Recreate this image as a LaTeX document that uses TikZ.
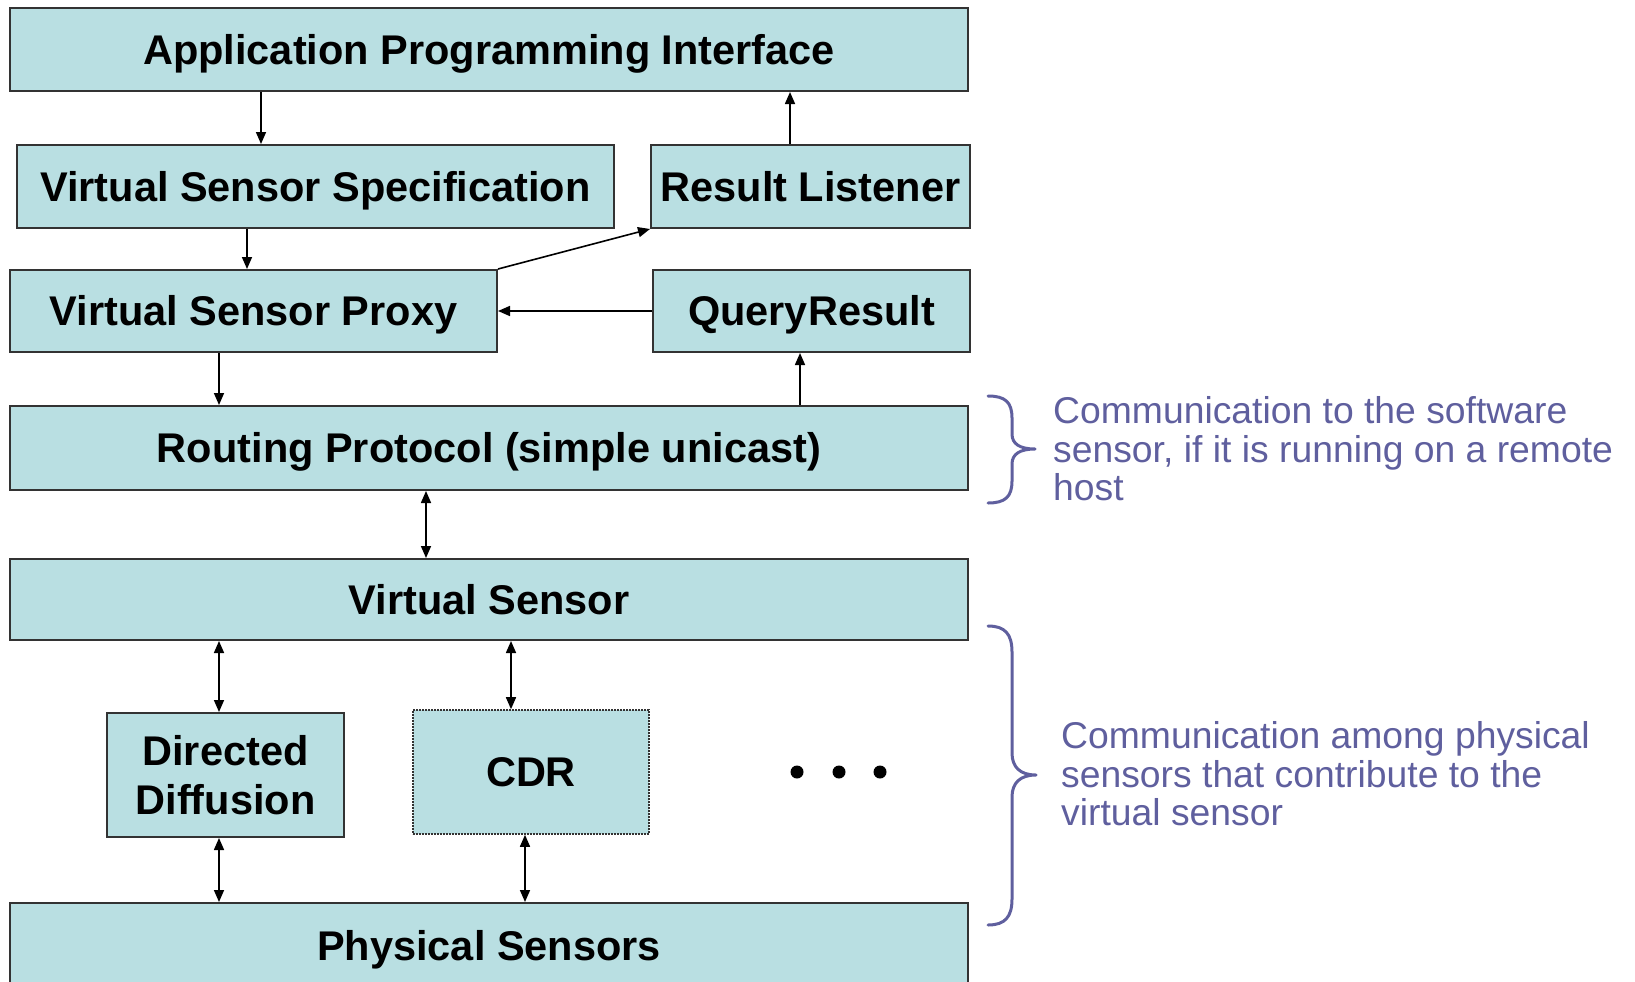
\documentclass[tikz,border=0pt]{standalone}
\usepackage{fontspec}
\setmainfont{Liberation Sans}
\usetikzlibrary{arrows.meta}
\definecolor{boxfill}{HTML}{B9DFE2}
\definecolor{boxline}{HTML}{333333}
\definecolor{notecol}{HTML}{5F5F9E}
\begin{document}
\begin{tikzpicture}[x=1pt,y=-1pt,
  layer/.style={draw=boxline, line width=2pt, fill=boxfill, inner sep=0pt,
    font=\fontsize{41.5}{49}\selectfont\bfseries, align=center},
  oneline/.style={layer, text height=29.7pt, text depth=0pt},
  dottedlayer/.style={layer, densely dotted, line width=1.6pt},
  arr/.style={-{Triangle[length=12pt,width=10pt]}, line width=1.6pt, draw=black},
  both/.style={{Triangle[length=12pt,width=10pt]}-{Triangle[length=12pt,width=10pt]}, line width=1.6pt, draw=black},
  notetext/.style={text=notecol, font=\fontsize{37.3}{38.6}\selectfont, align=left, inner sep=0pt, anchor=west},
  brace/.style={draw=notecol, line width=3pt, line cap=round, line join=round},
  dot/.style={circle, fill=black, minimum size=13pt, inner sep=0pt}
]
\useasboundingbox (0,0) rectangle (1635,982);
\clip (0,0) rectangle (1635,982);

% layers of the stack
\node[oneline, minimum width=958pt, minimum height=83pt] (api) at (489,49.5) {Application Programming Interface};
\node[oneline, minimum width=597pt, minimum height=83pt] (vss) at (315.5,186.5) {Virtual Sensor Specification};
\node[oneline, minimum width=319pt, minimum height=83pt] (rl) at (810.5,186.5) {Result Listener};
\node[oneline, minimum width=487pt, minimum height=82pt] (vsp) at (253.5,311) {Virtual Sensor Proxy};
\node[oneline, minimum width=317pt, minimum height=82pt] (qr) at (811.5,311) {QueryResult};
\node[oneline, minimum width=958pt, minimum height=84pt] (rp) at (489,448) {Routing Protocol (simple unicast)};
\node[oneline, minimum width=958pt, minimum height=81pt] (vs) at (489,599.5) {Virtual Sensor};
\node[layer, minimum width=237pt, minimum height=124pt] (dd) at (225.5,775) {Directed\\Diffusion};
\node[dottedlayer, text height=29.7pt, text depth=0pt, minimum width=236pt, minimum height=124pt] (cdr) at (531,772) {CDR};
\node[oneline, minimum width=958pt, minimum height=86pt] (ps) at (489,946) {Physical Sensors};

% further protocols
\node[dot] (d1) at (797,772) {};
\node[dot] (d2) at (839,772) {};
\node[dot] (d3) at (880,772) {};

% connector columns
\coordinate (k1) at (261,0);
\coordinate (k2) at (790,0);
\coordinate (k3) at (247,0);
\coordinate (k4) at (219,0);
\coordinate (k5) at (800,0);
\coordinate (k6) at (426,0);
\coordinate (k7) at (511,0);
\coordinate (k8) at (525,0);

\draw[arr] (api.south -| k1) -- (vss.north -| k1);
\draw[arr] (rl.north -| k2) -- (api.south -| k2);
\draw[arr] (vss.south -| k3) -- (vsp.north -| k3);
\draw[arr] (vsp.north east) -- (rl.south west);
\draw[arr] (qr.west) -- (vsp.east);
\draw[arr] (vsp.south -| k4) -- (rp.north -| k4);
\draw[arr] (rp.north -| k5) -- (qr.south -| k5);
\draw[both] (rp.south -| k6) -- (vs.north -| k6);
\draw[both] (vs.south -| k4) -- (dd.north -| k4);
\draw[both] (vs.south -| k7) -- (cdr.north -| k7);
\draw[both] (dd.south -| k4) -- (ps.north -| k4);
\draw[both] (cdr.south -| k8) -- (ps.north -| k8);

% braces and notes
\draw[brace] (988,396) .. controls (1005,396) and (1012,402) .. (1012,418)
  -- (1012,434) .. controls (1012,444) and (1020,449) .. (1035,449)
  .. controls (1020,449) and (1012,454) .. (1012,464)
  -- (1012,481) .. controls (1012,497) and (1005,503) .. (988,503);
\node[notetext] (n1) at (1053,449) {Communication to the software\\sensor, if it is running on a remote\\host};

\draw[brace] (988,626) .. controls (1005,626) and (1012,634) .. (1012,652)
  -- (1012,753) .. controls (1012,767) and (1020,775) .. (1036,775)
  .. controls (1020,775) and (1012,783) .. (1012,797)
  -- (1012,899) .. controls (1012,917) and (1005,925) .. (988,925);
\node[notetext] (n2) at (1061,774) {Communication among physical\\sensors that contribute to the\\virtual sensor};
\end{tikzpicture}
\end{document}
